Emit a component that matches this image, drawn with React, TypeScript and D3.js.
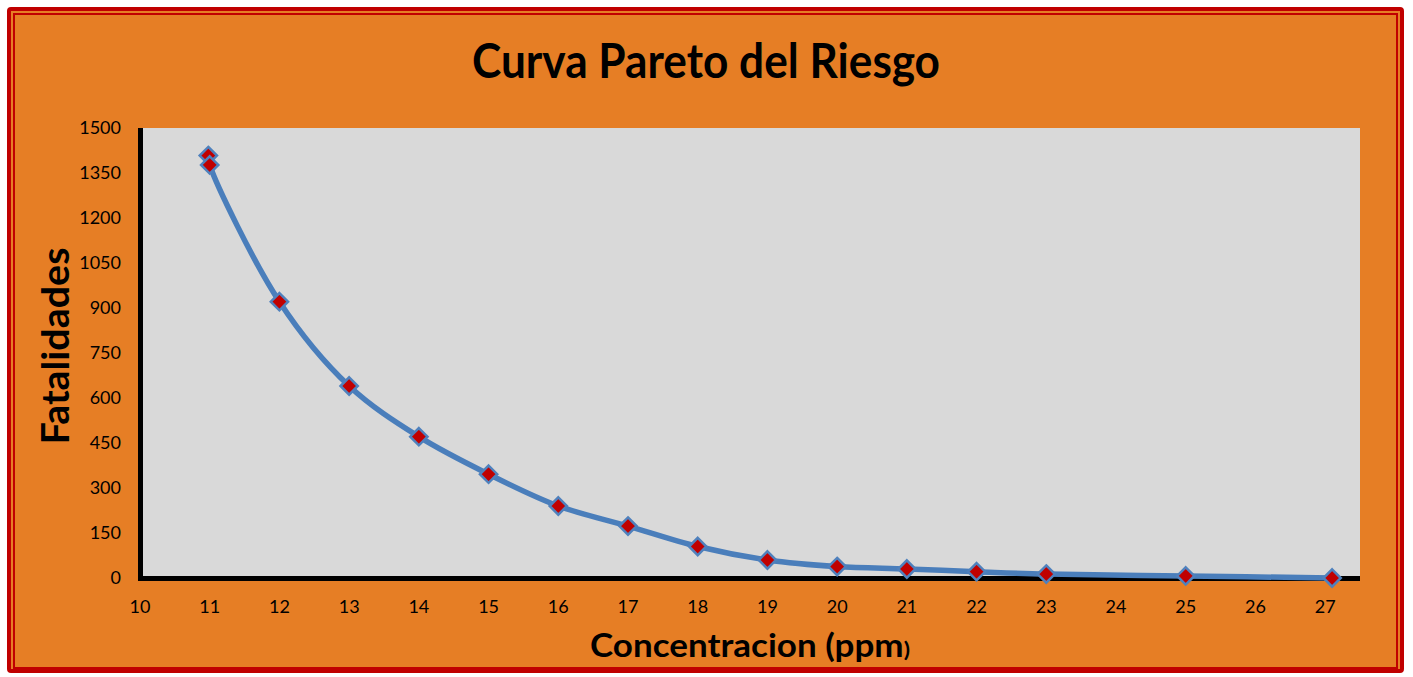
import React, { useEffect, useRef } from "react";
import * as d3 from "d3";

// concentracion (ppm) vs fatalidades
const concentracion = [10.98, 11.0, 12, 13, 14, 15, 16, 17, 18, 19, 20, 21, 22, 23, 25, 27.1];
const fatalidades = [1408, 1377, 921, 640, 471, 346, 240, 173, 105, 60, 38, 30, 21, 13, 7, 0];

const xTicks = [10, 11, 12, 13, 14, 15, 16, 17, 18, 19, 20, 21, 22, 23, 24, 25, 26, 27];
const yTicks = [0, 150, 300, 450, 600, 750, 900, 1050, 1200, 1350, 1500];

const titulo = "Curva Pareto del Riesgo";
const ejeX = "Concentracion (ppm";
const ejeY = "Fatalidades";

function App() {
  const chartRef = useRef<SVGSVGElement>(null);

  function drawChart() {
    const W = 1413,
      H = 677;
    const plot = { left: 140, right: 1360, top: 128, bottom: 578 };
    const font = "Lato, 'Open Sans', sans-serif";

    const svg = d3.select(chartRef.current);
    svg.selectAll("*").remove();

    var x = d3.scaleLinear().domain([10, 27.5]).range([plot.left, plot.right]);
    var y = d3.scaleLinear().domain([0, 1500]).range([plot.bottom, plot.top]);

    // background + frame
    svg.append("rect").attr("width", W).attr("height", H).attr("fill", "#ffffff");
    svg
      .append("rect")
      .attr("x", 9)
      .attr("y", 9)
      .attr("width", 1393)
      .attr("height", 662)
      .attr("rx", 2)
      .attr("fill", "#e67e25")
      .attr("stroke", "#c00000")
      .attr("stroke-width", 4);
    svg
      .append("rect")
      .attr("x", 14)
      .attr("y", 14)
      .attr("width", 1383)
      .attr("height", 654)
      .attr("fill", "none")
      .attr("stroke", "#c00000")
      .attr("stroke-width", 2);

    // plot area
    svg
      .append("rect")
      .attr("x", plot.left + 3)
      .attr("y", plot.top)
      .attr("width", plot.right - plot.left - 3)
      .attr("height", plot.bottom - plot.top - 2)
      .attr("fill", "#d9d9d9");

    // axes (thick black bars)
    svg
      .append("rect")
      .attr("x", 138)
      .attr("y", plot.top)
      .attr("width", 5)
      .attr("height", 581 - plot.top)
      .attr("fill", "#000");
    svg
      .append("rect")
      .attr("x", 138)
      .attr("y", 576)
      .attr("width", plot.right - 138)
      .attr("height", 5)
      .attr("fill", "#000");

    // tick labels
    svg
      .append("g")
      .selectAll("text")
      .data(yTicks)
      .enter()
      .append("text")
      .attr("x", 121)
      .attr("y", (d) => y(d))
      .attr("dy", "0.35em")
      .attr("text-anchor", "end")
      .attr("font-family", font)
      .attr("font-size", 18)
      .attr("fill", "#000")
      .text((d) => d);

    svg
      .append("g")
      .selectAll("text")
      .data(xTicks)
      .enter()
      .append("text")
      .attr("x", (d) => x(d))
      .attr("y", 613)
      .attr("text-anchor", "middle")
      .attr("font-family", font)
      .attr("font-size", 18)
      .attr("fill", "#000")
      .text((d) => d);

    // curve
    const pts = concentracion.map((c, i) => [c, fatalidades[i]] as [number, number]);
    var line = d3
      .line<[number, number]>()
      .x((d) => x(d[0]))
      .y((d) => y(d[1]))
      .curve(d3.curveCatmullRom.alpha(0.5));

    svg
      .append("path")
      .attr("d", line(pts))
      .attr("fill", "none")
      .attr("stroke", "#4a7ebb")
      .attr("stroke-width", 5.5)
      .attr("stroke-linecap", "round");

    var diamond = d3.symbol().type(d3.symbolDiamond2).size(190);
    svg
      .append("g")
      .selectAll("path")
      .data(pts)
      .enter()
      .append("path")
      .attr("d", diamond)
      .attr("transform", (d) => "translate(" + x(d[0]) + "," + y(d[1]) + ")")
      .attr("fill", "#c00000")
      .attr("stroke", "#4f81bd")
      .attr("stroke-width", 2.5);

    // titles
    svg
      .append("text")
      .attr("x", 706)
      .attr("y", 78)
      .attr("text-anchor", "middle")
      .attr("font-family", font)
      .attr("font-weight", "bold")
      .attr("font-size", 47)
      .attr("textLength", 468)
      .attr("lengthAdjust", "spacingAndGlyphs")
      .attr("fill", "#000")
      .text(titulo);

    const xl = svg
      .append("text")
      .attr("x", 750)
      .attr("y", 657)
      .attr("text-anchor", "middle")
      .attr("font-family", font)
      .attr("font-weight", "bold")
      .attr("font-size", 32)
      .attr("textLength", 320)
      .attr("lengthAdjust", "spacingAndGlyphs")
      .attr("fill", "#000");
    xl.append("tspan").text(ejeX);
    xl.append("tspan").attr("font-size", 21).text(")");

    svg
      .append("text")
      .attr("transform", "translate(69,346) rotate(-90)")
      .attr("text-anchor", "middle")
      .attr("font-family", font)
      .attr("font-weight", "bold")
      .attr("font-size", 38)
      .attr("textLength", 197)
      .attr("lengthAdjust", "spacingAndGlyphs")
      .attr("fill", "#000")
      .text(ejeY);
  }

  useEffect(() => {
    drawChart();
  }, []);

  return (
    <svg
      ref={chartRef}
      width={1413}
      height={677}
      style={{ position: "absolute", left: 0, top: 0, display: "block" }}
    ></svg>
  );
}

export default App;
